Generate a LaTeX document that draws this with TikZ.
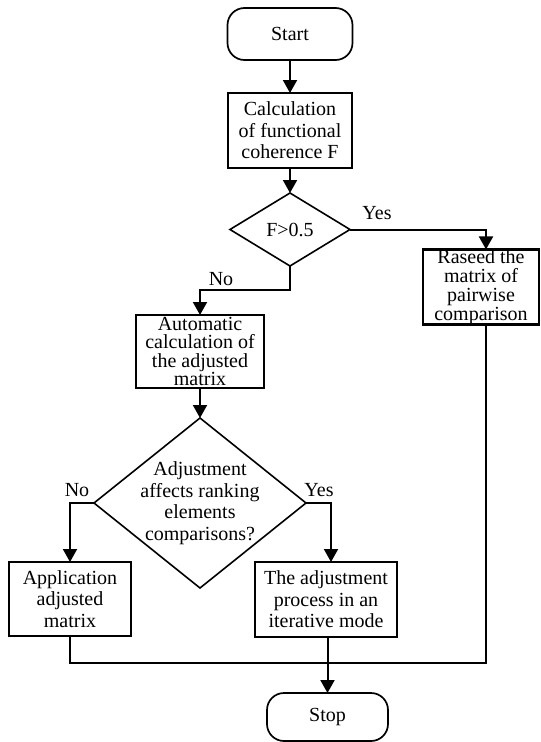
\documentclass[tikz,border=0pt]{standalone}
\usepackage{fontspec}
\setmainfont{Liberation Serif}
\usetikzlibrary{arrows.meta,shapes.geometric}
\begin{document}
\begin{tikzpicture}[x=1pt,y=-1pt,
  txt/.style={font=\fontsize{20}{21.5}\selectfont, align=center},
  box/.style={txt, draw, line width=2.2pt, inner sep=0pt, outer sep=0pt},
  rbox/.style={txt, draw, line width=1.7pt, rounded corners=17pt, inner sep=0pt, outer sep=0pt},
  dia/.style={draw, diamond, line width=1.6pt, inner sep=0pt, outer sep=0pt},
  conn/.style={line width=2pt},
  arr/.style={conn, -{Triangle[length=13pt,width=14pt]}},
  lab/.style={font=\fontsize{20}{21.5}\selectfont, inner sep=0pt}
]
\useasboundingbox (0,0) rectangle (541,742);

\node[rbox, minimum width=125pt, minimum height=52pt] (start) at (290,34) {Start};
\node[box, minimum width=124pt, minimum height=75pt] (calc) at (290,130.5) {Calculation\\of functional\\coherence F};
\node[dia, minimum width=120pt, minimum height=73pt] (d1) at (290,229.5) {};
\node[txt, inner sep=0pt] (d1t) at (290,229.5) {F>0.5};
\node[box, minimum width=116pt, minimum height=74pt, font=\fontsize{20}{19}\selectfont] (rs) at (481,287) {Raseed the\\matrix of\\pairwise\\comparison};
\node[box, minimum width=128pt, minimum height=73pt, font=\fontsize{20}{18.5}\selectfont] (auto) at (200,351.5) {Automatic\\calculation of\\the adjusted\\matrix};
\node[dia, minimum width=212pt, minimum height=170pt] (d2) at (200,503) {};
\node[txt, inner sep=0pt] (d2t) at (200,503) {Adjustment\\affects ranking\\elements\\comparisons?};
\node[box, minimum width=122pt, minimum height=74pt] (app) at (70,599) {Application\\adjusted\\matrix};
\node[box, minimum width=142pt, minimum height=75pt] (adj) at (326,599.5) {The adjustment\\process in an\\iterative mode};
\node[rbox, minimum width=121pt, minimum height=48pt] (stop) at (327.5,717) {Stop};

\coordinate (rx) at (486,0);
\coordinate (ax) at (331,0);
\coordinate (by) at (0,663);
\coordinate (ny) at (0,290);

\draw[arr] (start) -- (calc);
\draw[arr] (calc) -- (d1);
\draw[arr] (d1.east) -| (rx |- rs.north);
\draw[arr] (d1.south) -- (d1.south |- ny) -| (auto.north);
\draw[arr] (auto) -- (d2);
\draw[arr] (d2.west) -| (app.north);
\draw[arr] (d2.east) -| (ax |- adj.north);
\draw[arr] (adj.south -| stop.north) -- (stop.north);
\draw[conn] (app.south) |- (rx |- by) -- (rx |- rs.south);

\node[lab] (l1) at (377,213) {Yes};
\node[lab] (l2) at (221,279) {No};
\node[lab] (l3) at (77,490) {No};
\node[lab] (l4) at (319,490) {Yes};
\end{tikzpicture}
\end{document}
